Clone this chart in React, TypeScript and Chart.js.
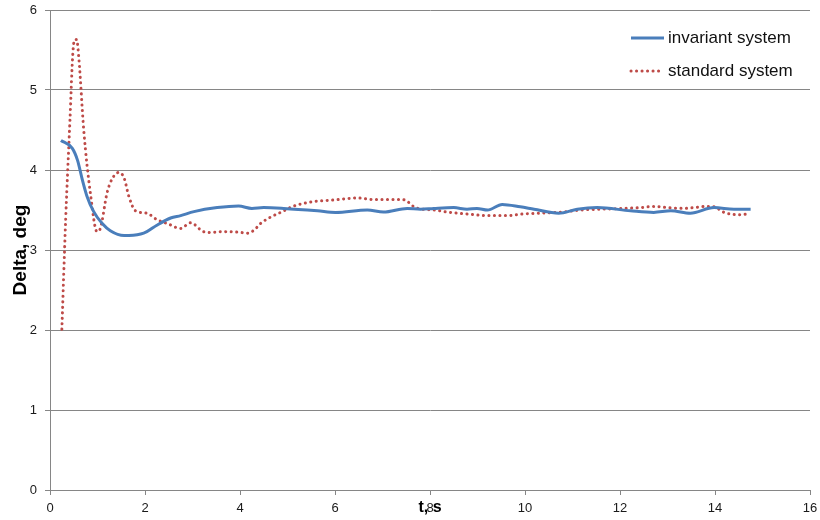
import { useEffect, useRef } from "react";
import { Chart, registerables } from "chart.js";

Chart.register(...registerables);

const invariantX = [0.23, 0.47, 0.58, 0.68, 0.78, 0.92, 1.1, 1.27, 1.56, 1.91, 2.04, 2.25, 2.54, 2.75, 3.03, 3.52, 3.97, 4.25, 4.5, 4.92, 5.63, 6.01, 6.68, 7.02, 7.52, 7.8, 8.08, 8.5, 8.78, 8.99, 9.21, 9.52, 9.9, 10.19, 10.71, 11.1, 11.52, 12.22, 12.71, 13.07, 13.48, 13.98, 14.4, 14.75];
const invariantY = [4.37, 4.27, 4.12, 3.88, 3.67, 3.48, 3.33, 3.24, 3.18, 3.2, 3.23, 3.31, 3.4, 3.43, 3.48, 3.53, 3.55, 3.52, 3.53, 3.52, 3.49, 3.47, 3.5, 3.475, 3.52, 3.51, 3.52, 3.53, 3.51, 3.52, 3.5, 3.57, 3.54, 3.51, 3.46, 3.51, 3.53, 3.49, 3.47, 3.49, 3.46, 3.53, 3.51, 3.51];

const standardX = [0.25, 0.33, 0.42, 0.48, 0.52, 0.56, 0.61, 0.71, 0.85, 0.99, 1.06, 1.2, 1.3, 1.45, 1.56, 1.66, 1.8, 2.04, 2.25, 2.47, 2.75, 2.96, 3.23, 3.38, 3.63, 4.01, 4.15, 4.3, 4.43, 4.64, 4.89, 5.09, 5.49, 5.97, 6.47, 6.82, 7.38, 7.49, 7.59, 7.69, 8.08, 8.43, 8.78, 9.21, 9.62, 9.94, 10.32, 10.68, 10.88, 11.17, 11.59, 12.08, 12.43, 12.71, 13.0, 13.34, 13.55, 13.83, 13.98, 14.19, 14.33, 14.54, 14.67];
const standardY = [2.01, 3.38, 4.62, 5.45, 5.63, 5.63, 5.375, 4.5, 3.71, 3.23, 3.27, 3.71, 3.88, 3.97, 3.9, 3.67, 3.49, 3.46, 3.38, 3.33, 3.27, 3.34, 3.23, 3.22, 3.23, 3.22, 3.21, 3.25, 3.33, 3.41, 3.48, 3.54, 3.6, 3.625, 3.65, 3.63, 3.63, 3.62, 3.575, 3.53, 3.5, 3.47, 3.45, 3.43, 3.43, 3.45, 3.46, 3.47, 3.48, 3.5, 3.51, 3.52, 3.53, 3.545, 3.53, 3.52, 3.53, 3.545, 3.54, 3.47, 3.45, 3.44, 3.45];

const seriesNames = ["invariant system", "standard system"];
const xTitle = "t, s";
const yTitle = "Delta, deg";

const BLUE = "#4A7EBB";
const RED = "#BE4B48";
const GRID = "#868686";
const FONT = "'Liberation Sans', Arial, sans-serif";

const legendPlugin = {
  id: "customLegend",
  afterDraw(chart: any) {
    const ctx = chart.ctx;
    ctx.save();
    chart.data.datasets.forEach((ds: any, i: number) => {
      const y = 38 + i * 33;
      ctx.beginPath();
      ctx.strokeStyle = ds.borderColor;
      ctx.lineWidth = ds.borderWidth;
      ctx.lineCap = ds.borderCapStyle || "butt";
      ctx.setLineDash(ds.borderDash || []);
      ctx.moveTo(631, y);
      ctx.lineTo(664, y);
      ctx.stroke();
      ctx.setLineDash([]);
      ctx.fillStyle = "#111";
      ctx.font = "17px " + FONT;
      ctx.textBaseline = "middle";
      ctx.textAlign = "left";
      ctx.fillText(ds.label, 668, y);
    });
    ctx.restore();
  },
};

export default function App() {
  const ref = useRef<HTMLCanvasElement | null>(null);

  useEffect(() => {
    if (!ref.current) return;
    const chart = new Chart(ref.current, {
      type: "line",
      data: {
        datasets: [
          {
            label: seriesNames[0],
            data: invariantX.map((x, i) => ({ x, y: invariantY[i] })),
            borderColor: BLUE,
            backgroundColor: BLUE,
            borderWidth: 3,
            pointRadius: 0,
            cubicInterpolationMode: "monotone",
            fill: false,
          },
          {
            label: seriesNames[1],
            data: standardX.map((x, i) => ({ x, y: standardY[i] })),
            borderColor: RED,
            backgroundColor: RED,
            borderWidth: 3,
            borderDash: [0.1, 5.4],
            borderCapStyle: "round",
            pointRadius: 0,
            cubicInterpolationMode: "monotone",
            fill: false,
          },
        ],
      },
      options: {
        animation: false,
        responsive: false,
        devicePixelRatio: 1,
        layout: { padding: { top: 10, right: 10, left: 0, bottom: 0 } },
        plugins: {
          legend: { display: false },
          tooltip: { enabled: false },
        },
        scales: {
          x: {
            type: "linear",
            min: 0,
            max: 16,
            ticks: {
              stepSize: 2,
              color: "#1a1a1a",
              font: { size: 13, family: FONT },
              padding: 6,
              maxRotation: 0,
            },
            grid: {
              drawOnChartArea: false,
              drawTicks: true,
              tickLength: 5,
              color: GRID,
            },
            border: { color: GRID, width: 1 },
            title: {
              display: true,
              text: xTitle,
              color: "#000",
              font: { size: 16, weight: "bold", family: FONT },
              padding: { top: 0, bottom: 3 },
            },
            afterFit(scale: any) {
              scale.height = 30;
              scale.paddingLeft = 0;
              scale.paddingRight = 0;
            },
          },
          y: {
            min: 0,
            max: 6,
            ticks: {
              stepSize: 1,
              color: "#1a1a1a",
              font: { size: 13, family: FONT },
              padding: 8,
            },
            grid: {
              color: GRID,
              drawTicks: true,
              tickLength: 5,
            },
            border: { color: GRID, width: 1 },
            title: {
              display: true,
              text: yTitle,
              color: "#000",
              font: { size: 19, weight: "bold", family: FONT },
              padding: { top: 9, bottom: 0 },
            },
            afterFit(scale: any) {
              scale.width = 50;
              scale.paddingTop = 0;
              scale.paddingBottom = 0;
            },
          },
        },
      },
      plugins: [legendPlugin],
    } as any);
    return () => chart.destroy();
  }, []);

  return (
    <div style={{ position: "absolute", left: 0, top: 0, width: 820, height: 520, background: "#fff" }}>
      <canvas ref={ref} width={820} height={520} style={{ width: 820, height: 520, display: "block" }} />
    </div>
  );
}
